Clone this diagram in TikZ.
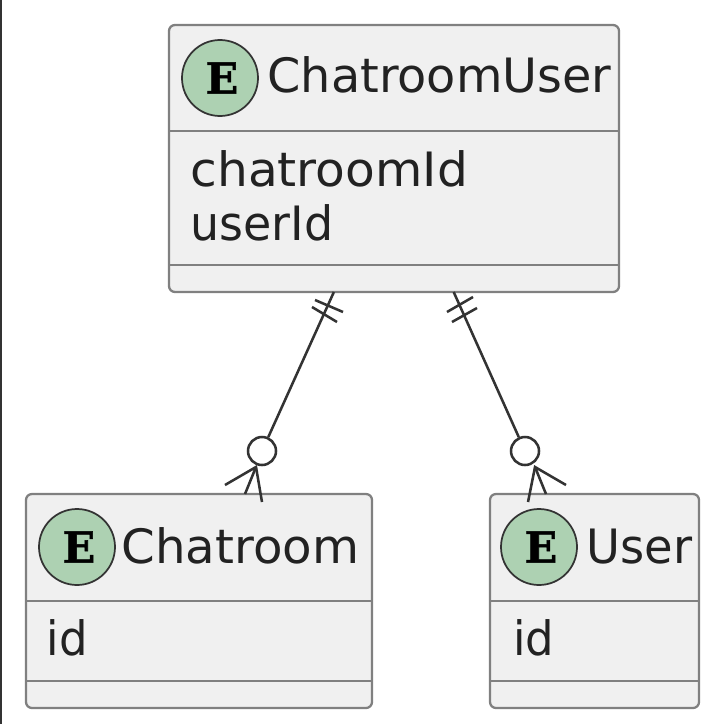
\documentclass[tikz,border=0pt]{standalone}
\usepackage{graphicx}
\usepackage{fontspec}
\setmainfont{DejaVu Sans}
\newfontfamily\eserif{DejaVu Serif}[BoldFeatures={FakeBold=1.2}]
\begin{document}
\begin{tikzpicture}[x=0.75pt,y=-0.75pt,
  ebox/.style={draw=boxgray,fill=boxfill,line width=1.7pt,rounded corners=4.5pt,inner sep=0pt,outer sep=0pt,anchor=north west},
  sep/.style={draw=boxgray,line width=1.5pt},
  badge/.style={circle,draw=edge,fill=badgegreen,line width=1.3pt,minimum size=57pt,inner sep=0pt,font=\eserif\bfseries\fontsize{32}{32}\selectfont,text=black},
  lbl/.style={anchor=base west,inner sep=0pt,outer sep=0pt,font=\fontsize{35.5}{35.5}\selectfont,text=txt},
  rel/.style={draw=edge,line width=1.9pt},
  ring/.style={circle,draw=edge,fill=white,line width=1.9pt,minimum size=21pt,inner sep=0pt}]
\definecolor{boxgray}{HTML}{808080}
\definecolor{boxfill}{HTML}{F0F0F0}
\definecolor{badgegreen}{HTML}{ADD1B2}
\definecolor{edge}{HTML}{333333}
\definecolor{txt}{HTML}{222222}
\useasboundingbox (0,0) rectangle (717,724);
\fill[white] (0,0) rectangle (717,724);
\fill[edge] (0,0) rectangle (1.5,724);
% boxes
\node[ebox,minimum width=337.5pt,minimum height=200.25pt] (cu) at (169,25) {};
\node[ebox,minimum width=259.5pt,minimum height=160.5pt] (ch) at (26,494) {};
\node[ebox,minimum width=156.75pt,minimum height=160.5pt] (us) at (490,494) {};
% separators
\draw[sep] (cu.west |- 0,131) -- (cu.east |- 0,131);
\draw[sep] (cu.west |- 0,265) -- (cu.east |- 0,265);
\draw[sep] (ch.west |- 0,601) -- (ch.east |- 0,601);
\draw[sep] (ch.west |- 0,681) -- (ch.east |- 0,681);
\draw[sep] (us.west |- 0,601) -- (us.east |- 0,601);
\draw[sep] (us.west |- 0,681) -- (us.east |- 0,681);
% badges
\node[badge] (b1) at (220,78) {\hspace{3pt}E};
\node[badge] (b2) at (77,547) {\hspace{3pt}E};
\node[badge] (b3) at (539,547) {\hspace{3pt}E};
% labels
\node[lbl] (t1) at (267.5,93) {\scalebox{1.009}[1]{ChatroomUser}};
\node[lbl] (f1) at (190.5,186) {\scalebox{1.027}[1]{chatroomId}};
\node[lbl] (f2) at (190.5,240) {\scalebox{0.97}[1]{userId}};
\node[lbl] (t2) at (121.5,563) {\scalebox{1.02}[1]{Chatroom}};
\node[lbl] (f3) at (46.5,655) {\scalebox{0.95}[1]{id}};
\node[lbl] (t3) at (586.5,563) {\scalebox{0.98}[1]{User}};
\node[lbl] (f4) at (513,655) {\scalebox{0.95}[1]{id}};
% left connector
\node[ring] (o1) at (262,451) {};
\draw[rel] (cu) -- (o1);
\coordinate (a1) at (315,300); \coordinate (a2) at (343,312);
\coordinate (a3) at (312,307); \coordinate (a4) at (337,322);
\draw[rel] (a1) -- (a2);
\draw[rel] (a3) -- (a4);
\coordinate (c1) at (256,467);
\coordinate (c2) at (225,485); \coordinate (c3) at (245,494); \coordinate (c4) at (262,502);
\draw[rel] (c2) -- (c1) -- (c4);
\draw[rel] (c1) -- (c3);
% right connector
\node[ring] (o2) at (525,451) {};
\draw[rel] (cu) -- (o2);
\coordinate (d1) at (447,312); \coordinate (d2) at (473,297);
\coordinate (d3) at (452,322); \coordinate (d4) at (477,308);
\draw[rel] (d1) -- (d2);
\draw[rel] (d3) -- (d4);
\coordinate (e1) at (535,467);
\coordinate (e2) at (566,485); \coordinate (e3) at (546,494); \coordinate (e4) at (528,502);
\draw[rel] (e2) -- (e1) -- (e4);
\draw[rel] (e1) -- (e3);
\end{tikzpicture}
\end{document}
